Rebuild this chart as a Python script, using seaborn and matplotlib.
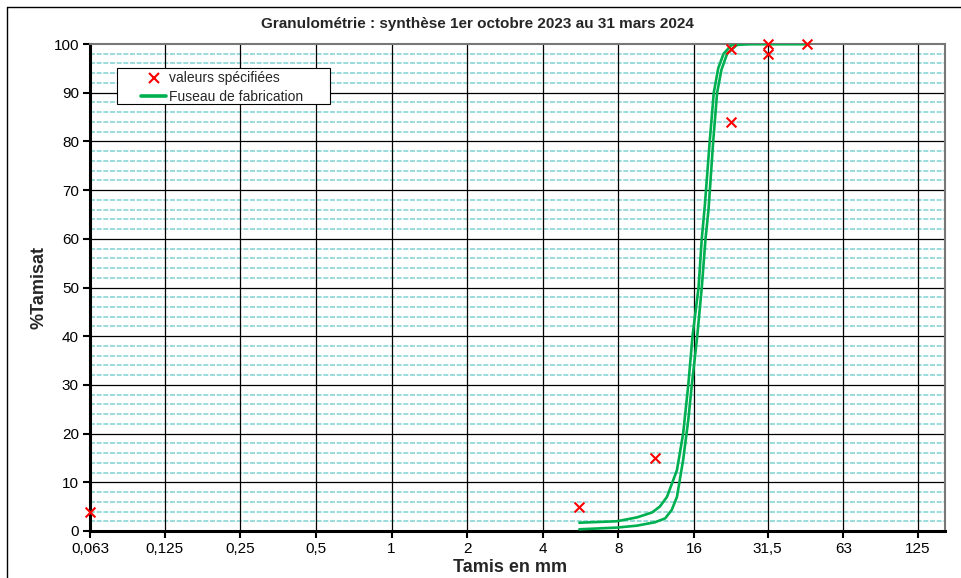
import matplotlib
matplotlib.use("Agg")
import matplotlib.pyplot as plt
import seaborn as sns
import pandas as pd
from matplotlib.lines import Line2D
from matplotlib.patches import Rectangle

# ---- data ----
tick_sizes = [0.063, 0.125, 0.25, 0.5, 1, 2, 4, 8, 16, 31.5, 63, 125]
tick_labels = ["0,063", "0,125", "0,25", "0,5", "1", "2", "4", "8", "16", "31,5", "63", "125"]

spec_sizes = [0.063, 5.6, 11.2, 22.4, 22.4, 31.5, 31.5, 45]
spec_values = [4, 5, 15, 84, 99, 98, 100, 100]

upper_sizes = [5.6, 7.9, 9.5, 10.9, 11.7, 12.5, 13.7, 14.5, 15.2, 15.8, 16.7, 17.2, 17.7, 18.5, 19.2, 20.0, 21.0, 22.6, 24.4, 45]
upper_values = [1.7, 2.0, 2.8, 3.8, 5.0, 7.0, 12.5, 20, 30, 40, 50, 60, 67, 80, 90, 95, 98, 99.8, 100, 100]

lower_sizes = [5.6, 7.9, 9.5, 11.2, 12.3, 13.05, 13.7, 14.5, 15.2, 15.7, 16.5, 17.2, 17.8, 18.3, 19.1, 19.8, 20.6, 21.7, 23.7, 26.8, 45]
lower_values = [0.35, 0.7, 1.1, 1.8, 2.6, 4.3, 7.0, 14.6, 22.8, 30, 40, 50, 60, 66, 80, 90, 94.7, 98, 99.8, 100, 100]

title = "Granulométrie : synthèse 1er octobre 2023 au 31 mars 2024"

# ---- style ----
sns.set_theme(style="white")
plt.rcParams["font.family"] = ["Liberation Sans", "DejaVu Sans"]

fig = plt.figure(figsize=(9.61, 5.78), dpi=100)
ax = fig.add_axes([90 / 961, 47 / 578, 855 / 961, 487 / 578])

green = "#00b050"
sns.lineplot(x=upper_sizes, y=upper_values, ax=ax, color=green, lw=1.9,
             sort=False, estimator=None, zorder=3)
sns.lineplot(x=lower_sizes, y=lower_values, ax=ax, color=green, lw=1.9,
             sort=False, estimator=None, zorder=3)
sns.scatterplot(x=spec_sizes, y=spec_values, ax=ax, marker="x", color="#ff0000",
                s=50, linewidth=1.5, zorder=6, clip_on=False)

ax.set_xscale("log", base=2)
ax.set_xlim(0.063, 160)
ax.set_ylim(0, 100)
ax.set_xticks(tick_sizes)
ax.set_xticklabels(tick_labels)
ax.set_xticks([], minor=True)
ax.set_yticks(range(0, 101, 10))
ax.set_yticks([v for v in range(0, 101, 2) if v % 10], minor=True)

ax.tick_params(axis="both", which="major", direction="out", length=5, width=1.5,
               color="black", labelsize=11, labelcolor="black", pad=3,
               bottom=True, left=True)
ax.tick_params(axis="y", which="minor", length=0)

ax.grid(False)
for y in range(10, 100, 10):
    ax.axhline(y, color="black", lw=0.9, zorder=1)
for v in range(0, 101, 2):
    if v % 10:
        ax.axhline(v, color="#8ad6d6", lw=1.2, ls=(0, (3, 1)), zorder=1)
for x in tick_sizes[1:]:
    ax.axvline(x, color="black", lw=0.9, zorder=1)

for side in ["left", "bottom"]:
    ax.spines[side].set_color("black")
    ax.spines[side].set_linewidth(2.2)
for side in ["top", "right"]:
    ax.spines[side].set_color("#777777")
    ax.spines[side].set_linewidth(1.5)

ax.set_xlabel("Tamis en mm", fontsize=13, fontweight="bold", labelpad=0)
ax.xaxis.set_label_coords((510 - 90) / 855, -0.058)
ax.set_ylabel("%Tamisat", fontsize=13, fontweight="bold", labelpad=4)

# legend
legend_handles = [
    Line2D([], [], marker="x", color="#ff0000", ls="none", markersize=7, markeredgewidth=1.5),
    Line2D([], [], color=green, lw=2.6),
]
ax.add_patch(Rectangle(((117 - 90) / 855, (531 - 104) / 487), 213 / 855, 36 / 487,
                       transform=ax.transAxes, facecolor="white", edgecolor="black",
                       lw=0.8, zorder=4.5))
ax.legend(legend_handles, ["valeurs spécifiées", "Fuseau de fabrication"],
          loc="upper left", bbox_to_anchor=((140 - 90) / 855, (531 - 70) / 487),
          borderaxespad=0, borderpad=0.1, frameon=False, fontsize=10,
          handlelength=1.8, handletextpad=0.2, labelspacing=0.35)

fig.text(477 / 961, 1 - 24 / 578, title, ha="center", va="center",
         fontsize=11, fontweight="bold")

# outer border
fig.add_artist(Line2D([7 / 961, 7 / 961], [0, 1 - 7 / 578], color="black", lw=1,
                      transform=fig.transFigure))
fig.add_artist(Line2D([7 / 961, 1], [1 - 7 / 578, 1 - 7 / 578], color="black", lw=1,
                      transform=fig.transFigure))

fig.savefig("out.png", dpi=100)
